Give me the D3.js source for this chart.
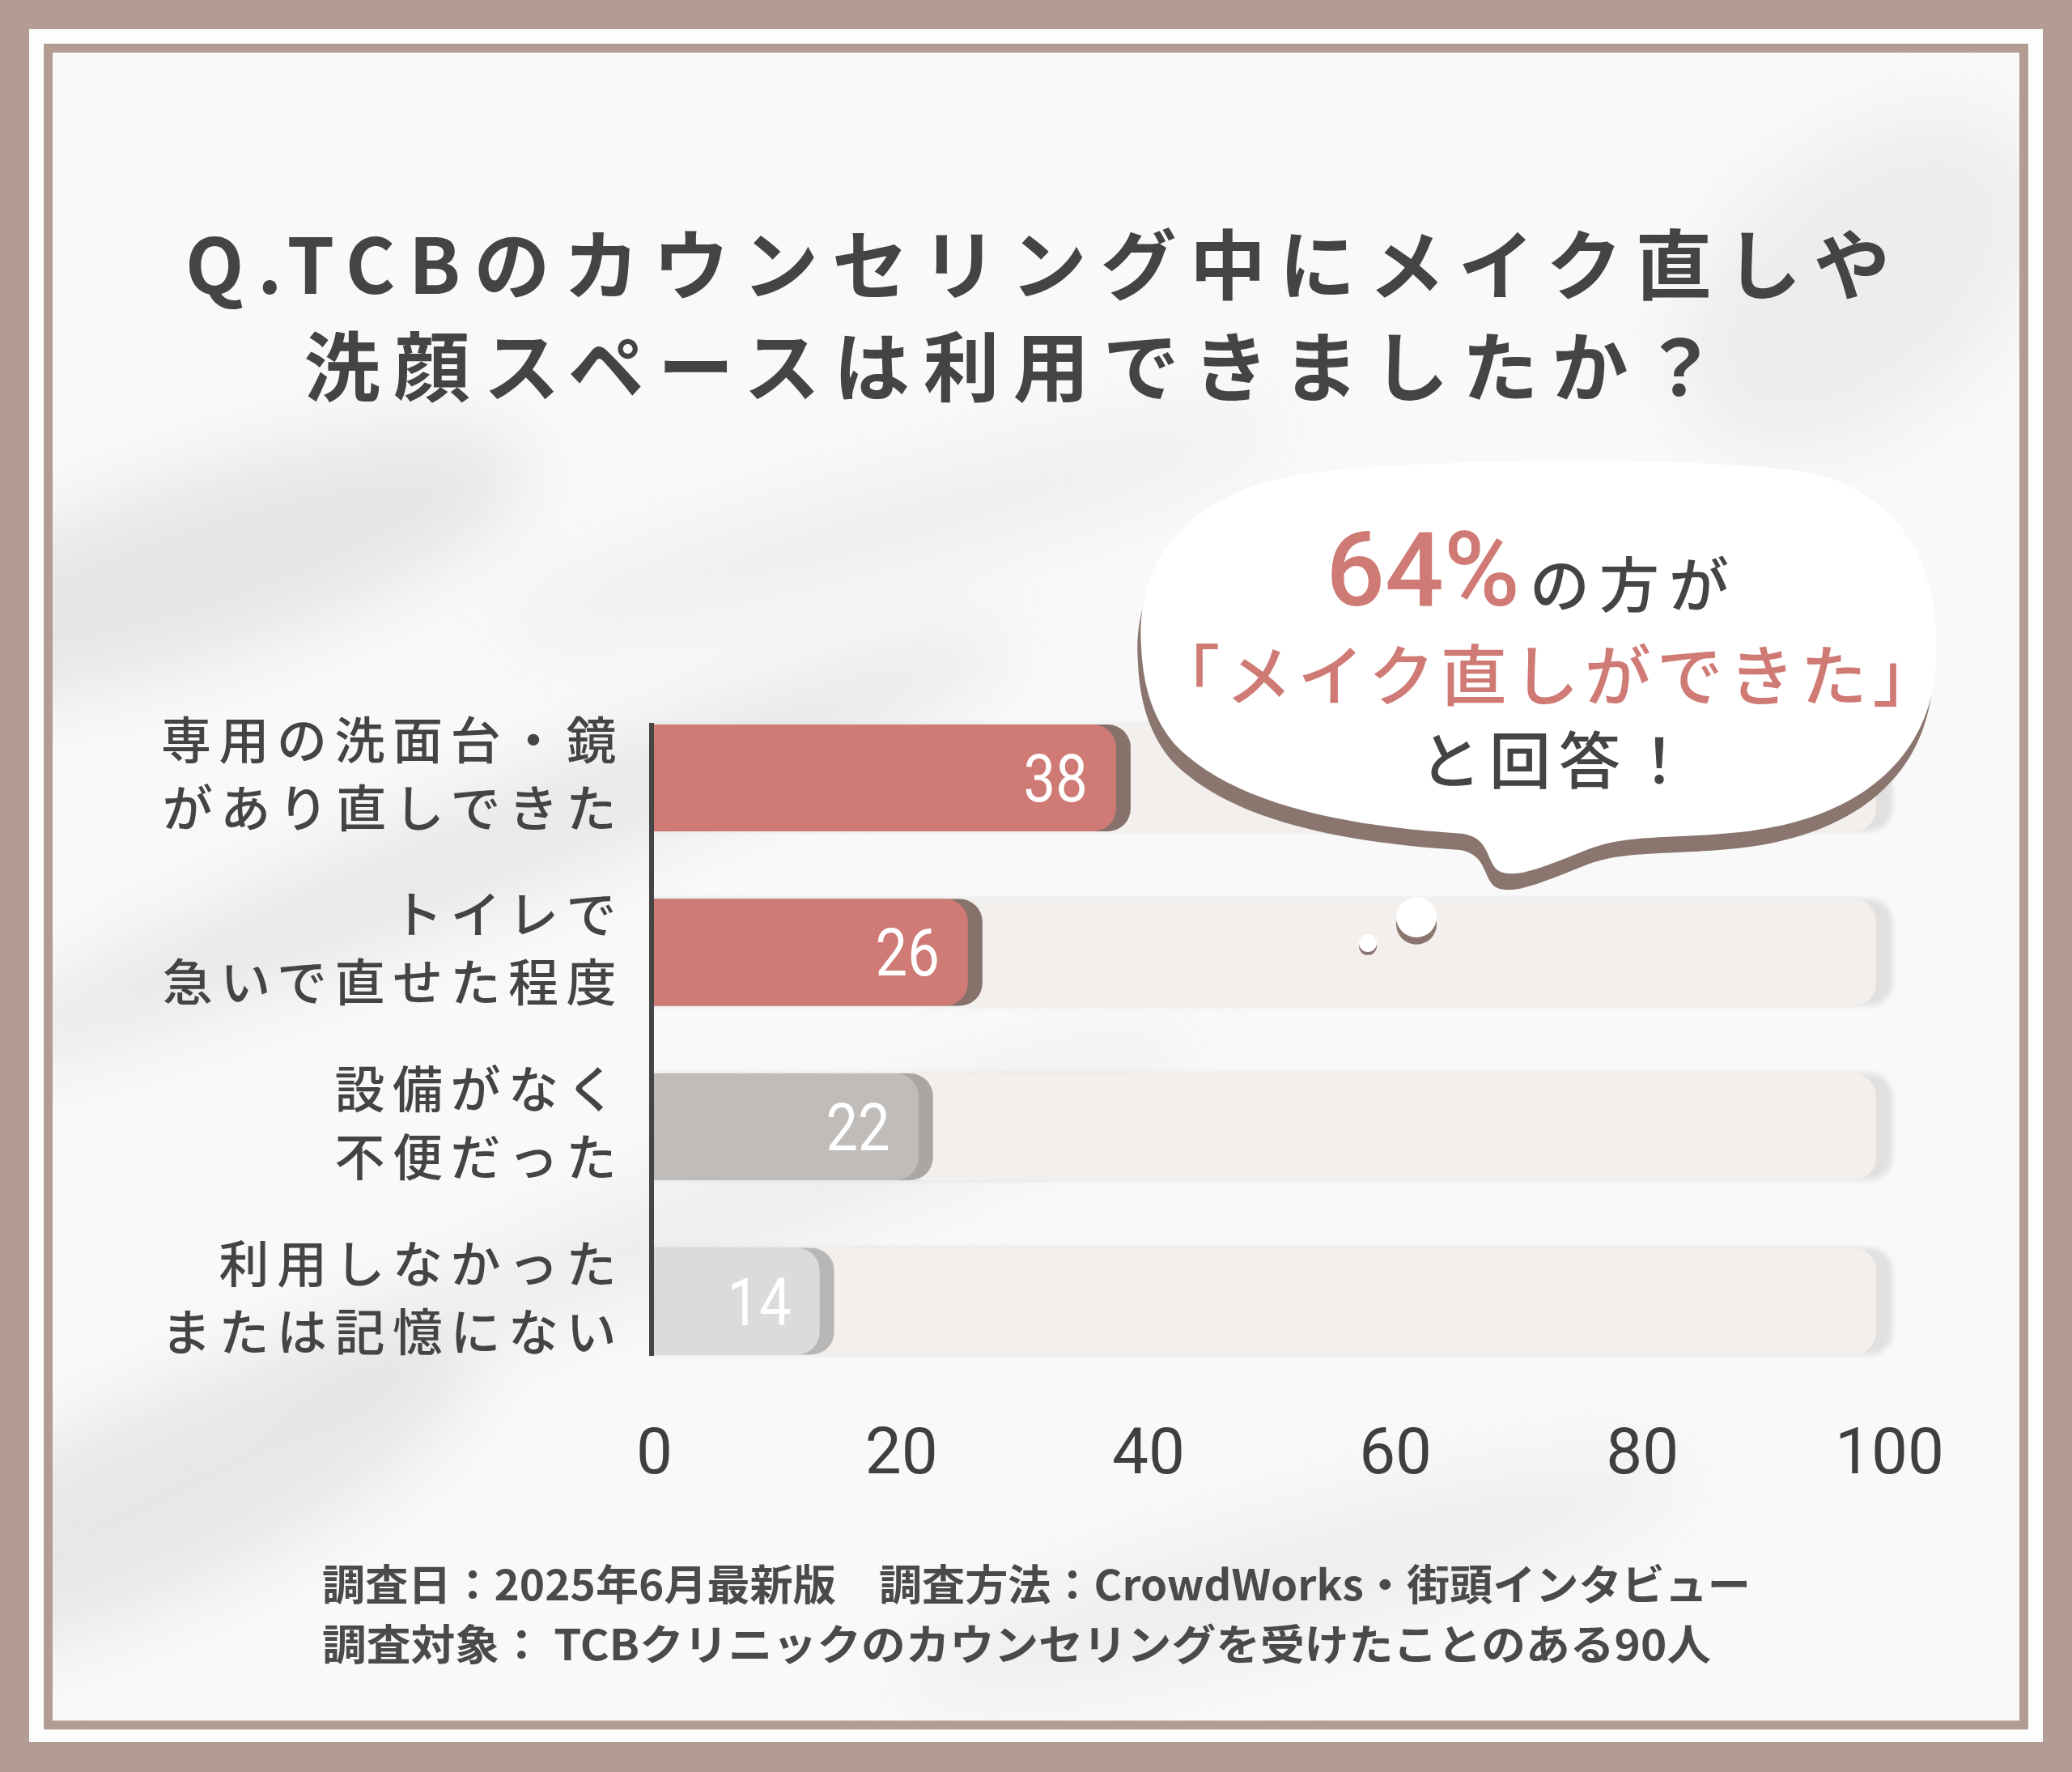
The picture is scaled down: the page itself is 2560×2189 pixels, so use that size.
<!DOCTYPE html>
<html>
<head>
<meta charset="utf-8">
<script src="https://cdn.jsdelivr.net/npm/d3@7"></script>
<style>
  html, body { margin: 0; padding: 0; background: #fff; }
  svg { display: block; }
</style>
</head>
<body>
<div id="chart"></div>
<script>
// ---------- data ----------
const categories = [
  ["専用の洗面台・鏡", "があり直しできた"],
  ["トイレで", "急いで直せた程度"],
  ["設備がなく", "不便だった"],
  ["利用しなかった", "または記憶にない"]
];
const values = [38, 26, 22, 14];
const barColors = ["#cf7a75", "#cf7a75", "#bfbcba", "#dcdbda"];
const edgeColors = ["#86716b", "#86716b", "#a9a6a4", "#b9b7b5"];
const tickValues = [0, 20, 40, 60, 80, 100];
const titleLines = ["Q.TCBのカウンセリング中にメイク直しや", "洗顔スペースは利用できましたか？"];
const bubbleLines = ["64%", "の方が", "「メイク直しができた」", "と回答！"];
const footerLines = [
  "調査日：2025年6月最新版　調査方法：CrowdWorks・街頭インタビュー",
  "調査対象： TCBクリニックのカウンセリングを受けたことのある90人"
];

// ---------- setup ----------
const W = 2560, H = 2189;
const JP = "'Noto Sans CJK JP', 'Noto Sans', sans-serif";
const NUM = "Roboto, 'Noto Sans', sans-serif";
const svg = d3.select("#chart").append("svg").attr("width", W).attr("height", H);
const defs = svg.append("defs");

defs.append("filter").attr("id", "blur").attr("x", "-50%").attr("y", "-50%").attr("width", "200%").attr("height", "200%")
  .append("feGaussianBlur").attr("stdDeviation", 45);
defs.append("filter").attr("id", "soft").attr("x", "-20%").attr("y", "-20%").attr("width", "140%").attr("height", "140%")
  .append("feGaussianBlur").attr("stdDeviation", 3);
defs.append("clipPath").attr("id", "inner").append("rect")
  .attr("x", 65).attr("y", 65).attr("width", 2430).attr("height", 2061);

// frame
svg.append("rect").attr("width", W).attr("height", H).attr("fill", "#b39c93");
svg.append("rect").attr("x", 36).attr("y", 36).attr("width", W - 72).attr("height", H - 73).attr("fill", "#fdfdfd");
svg.append("rect").attr("x", 59.5).attr("y", 59.5).attr("width", 2441).attr("height", 2071.5)
  .attr("fill", "#f9f9f9").attr("stroke", "#b39c93").attr("stroke-width", 11);

// subtle fabric-like background smudges
const bg = svg.append("g").attr("clip-path", "url(#inner)").append("g").attr("filter", "url(#blur)");
const smudges = [
  {cx: 250, cy: 700, rx: 420, ry: 110, rot: -18, o: 0.6},
  {cx: 600, cy: 1050, rx: 700, ry: 70, rot: -22, o: 0.5},
  {cx: 200, cy: 1850, rx: 420, ry: 120, rot: -25, o: 0.55},
  {cx: 900, cy: 1500, rx: 600, ry: 60, rot: -20, o: 0.35},
  {cx: 2300, cy: 350, rx: 260, ry: 160, rot: -40, o: 0.35},
  {cx: 1600, cy: 1950, rx: 500, ry: 80, rot: -15, o: 0.3},
  {cx: 1100, cy: 650, rx: 500, ry: 60, rot: -15, o: 0.3}
];
bg.selectAll("ellipse").data(smudges).join("ellipse")
  .attr("cx", d => d.cx).attr("cy", d => d.cy).attr("rx", d => d.rx).attr("ry", d => d.ry)
  .attr("transform", d => `rotate(${d.rot},${d.cx},${d.cy})`)
  .attr("fill", "#d8d8d8").attr("opacity", d => d.o);

// ---------- title ----------
const titleG = svg.append("g");
const titleSpec = [
  {cx: 1282, base: 363, len: 2106},
  {cx: 1249, base: 489, len: 1747}
];
titleG.selectAll("text").data(titleLines).join("text")
  .attr("x", (d, i) => titleSpec[i].cx).attr("y", (d, i) => titleSpec[i].base)
  .attr("text-anchor", "middle")
  .attr("textLength", (d, i) => titleSpec[i].len).attr("lengthAdjust", "spacing")
  .attr("font-family", JP).attr("font-weight", 700).attr("font-size", 94).attr("fill", "#444")
  .text(d => d);

// ---------- scales ----------
const x = d3.scaleLinear().domain([0, 100]).range([808, 2334]);
const y = d3.scaleBand().domain(d3.range(categories.length)).range([895, 1673.5]).paddingInner(0.3875).paddingOuter(0);
const bh = y.bandwidth();
const R = 28;
function rightRounded(x0, x1, yy, h, r) {
  return `M${x0},${yy}H${x1 - r}A${r},${r} 0 0 1 ${x1},${yy + r}V${yy + h - r}A${r},${r} 0 0 1 ${x1 - r},${yy + h}H${x0}Z`;
}

// tracks
const tracks = svg.append("g");
tracks.selectAll("path.tedge").data(values).join("path").attr("class", "tedge")
  .attr("d", (d, i) => rightRounded(x(0), x(100) + 4, y(i), bh, R)).attr("fill", "#e1e0df").attr("filter", "url(#soft)");
tracks.selectAll("path.track").data(values).join("path").attr("class", "track")
  .attr("d", (d, i) => rightRounded(x(0), x(100) - 16, y(i), bh, R)).attr("fill", "#f2efed");

// bars
const bars = svg.append("g");
bars.selectAll("path.edge").data(values).join("path").attr("class", "edge")
  .attr("d", (d, i) => rightRounded(x(0), x(d) + 9, y(i), bh, R)).attr("fill", (d, i) => edgeColors[i]);
bars.selectAll("path.bar").data(values).join("path").attr("class", "bar")
  .attr("d", (d, i) => rightRounded(x(0), x(d) - 9, y(i), bh, R)).attr("fill", (d, i) => barColors[i]);

// value labels
bars.selectAll("text").data(values).join("text")
  .attr("transform", (d, i) => `translate(${x(d) - 44},${y(i) + bh / 2 + 29}) scale(0.86,1)`)
  .attr("text-anchor", "end")
  .attr("font-family", NUM).attr("font-size", 82).attr("font-weight", 400).attr("fill", "#fff")
  .text(d => d);

// axis (vertical line) and x ticks
svg.append("line").attr("x1", 805).attr("x2", 805).attr("y1", 893).attr("y2", 1675)
  .attr("stroke", "#454545").attr("stroke-width", 6);
const xAxis = d3.axisBottom(x).tickValues(tickValues).tickSize(0).tickPadding(0);
const axG = svg.append("g").attr("transform", "translate(0,1820)").call(xAxis);
axG.select(".domain").remove();
axG.selectAll("text").attr("font-family", NUM).attr("font-size", 80).attr("font-weight", 400)
  .attr("fill", "#3f3f3f").attr("dy", 0);

// category labels
const labG = svg.append("g");
categories.forEach((lines, i) => {
  const cy = y(i) + bh / 2 - 5;
  labG.selectAll(null).data(lines).join("text")
    .attr("x", 771).attr("y", (d, j) => cy + (j === 0 ? -42 : 42) + 24)
    .attr("text-anchor", "end").attr("letter-spacing", 9.5)
    .attr("font-family", JP).attr("font-weight", 500).attr("font-size", 62).attr("fill", "#444")
    .text(d => d);
});

// ---------- speech bubble ----------
const bubblePath = "M1410,800 C1402,690 1470,598 1640,582 C1790,567 2040,563 2210,580 C2345,594 2400,700 2392,820 C2385,935 2300,1012 2150,1028 C2060,1037 2010,1030 1960,1050 C1905,1072 1872,1086 1852,1076 C1836,1066 1842,1036 1808,1030 C1650,1020 1520,990 1452,920 C1422,885 1412,842 1410,800Z";
const bub = svg.append("g");
bub.append("path").attr("d", bubblePath).attr("fill", "#8a766f").attr("transform", "translate(-4,20)");
bub.append("path").attr("d", bubblePath).attr("fill", "#ffffff");
// thought dots
const dots = [{cx: 1750, cy: 1133, r: 25}, {cx: 1690, cy: 1165, r: 11}];
bub.selectAll("circle.ds").data(dots).join("circle").attr("class", "ds")
  .attr("cx", d => d.cx).attr("cy", d => d.cy + d.r * 0.35).attr("r", d => d.r).attr("fill", "#8a766f");
bub.selectAll("circle.dw").data(dots).join("circle").attr("class", "dw")
  .attr("cx", d => d.cx).attr("cy", d => d.cy).attr("r", d => d.r).attr("fill", "#ffffff");

// line 1: "64%" + "の方が"
bub.append("text").attr("x", 1878).attr("y", 748).attr("text-anchor", "end")
  .attr("font-family", NUM).attr("font-weight", 500).attr("font-size", 128).attr("fill", "#cf7a75")
  .text(bubbleLines[0]);
bub.append("text").attr("x", 1890).attr("y", 750).attr("text-anchor", "start")
  .attr("letter-spacing", 12)
  .attr("font-family", JP).attr("font-weight", 500).attr("font-size", 74).attr("fill", "#444")
  .text(bubbleLines[1]);
bub.append("text").attr("x", 1914).attr("y", 865).attr("text-anchor", "middle")
  .attr("letter-spacing", 7)
  .attr("font-family", JP).attr("font-weight", 500).attr("font-size", 82).attr("fill", "#cf7a75")
  .text(bubbleLines[2]);
bub.append("text").attr("x", 1926).attr("y", 968).attr("text-anchor", "middle")
  .attr("letter-spacing", 10)
  .attr("font-family", JP).attr("font-weight", 500).attr("font-size", 76).attr("fill", "#444")
  .text(bubbleLines[3]);

// ---------- footer ----------
const footSpec = [{y: 1977, len: 1765}, {y: 2051, len: 1716}];
svg.append("g").selectAll("text").data(footerLines).join("text")
  .attr("x", 398).attr("y", (d, i) => footSpec[i].y)
  .attr("textLength", (d, i) => footSpec[i].len).attr("lengthAdjust", "spacingAndGlyphs")
  .attr("font-family", JP).attr("font-weight", 700).attr("font-size", 52).attr("fill", "#4a4a4a")
  .text(d => d);
</script>
</body>
</html>
